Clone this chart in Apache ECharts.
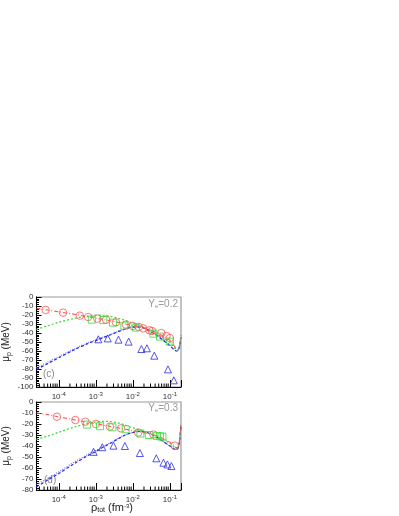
<!DOCTYPE html>
<html>
<head>
<meta charset="utf-8">
<script src="https://cdn.jsdelivr.net/npm/echarts@6/dist/echarts.min.js"></script>
<style>
html, body { margin: 0; padding: 0; background: #fff; }
#main { width: 399px; height: 516px; }
</style>
</head>
<body>
<div id="main"></div>
<script>
// density grid used by the model curves (fm^-3)
var rhoCurve = [2.5e-5, 5e-5, 1e-4, 2.5e-4, 6.3e-4, 1e-3, 1.6e-3, 2.5e-3, 4e-3, 6.3e-3, 1e-2, 1.6e-2, 2.5e-2, 4e-2, 6.3e-2, 0.1, 0.126, 0.148, 0.166, 0.18, 0.19, 0.2];

// panel (c) Ye = 0.2
var redC = [-12.5, -14.5, -16.5, -19, -22, -23.5, -25, -26.5, -28, -30, -31.5, -33.5, -36, -39, -43, -48, -53, -57.5, -58.5, -55.5, -50.5, -44.5];
var greenC = [-36, -32, -28, -24, -21, -20, -20.3, -21.5, -23.5, -26, -29, -32, -35.5, -40, -45, -50.5, -55, -58.5, -59, -56, -51, -45];
var blueC = [-80.5, -74, -67.5, -59, -51.5, -48.5, -45, -42, -38.5, -35.5, -33.5, -33.5, -36.5, -41.5, -47.5, -54, -58, -60, -59.5, -56, -51, -45];
var blueLightC = [-78.5, -72.5, -66, -58, -50.5, -47.5, -44.5, -41.5, -38, -35, -33, -33, -36, -41, -47, -53.5, -57.5, -59.5, -59, -55, -49, -42];

var circleRhoC = [4.4e-5, 1.3e-4, 3.7e-4, 6.2e-4, 1.1e-3, 1.9e-3, 3.5e-3, 6.5e-3, 1.0e-2, 1.45e-2, 1.9e-2, 2.8e-2, 3.3e-2, 5.9e-2, 8.1e-2, 0.1];
var circleMuC = [-14.4, -17.4, -20.7, -22.2, -24, -25.2, -28.1, -30.7, -32.2, -33.3, -34.8, -37, -37.8, -40, -43.3, -45.6];
var squareRhoC = [7.8e-4, 1.6e-3, 2.9e-3, 5.9e-3, 1.2e-2, 3.6e-2, 5.4e-2, 0.1];
var squareMuC = [-25.2, -25.6, -28.5, -31.9, -34, -40.7, -44, -49.6];
var triRhoC = [1.17e-3, 2.1e-3, 4.1e-3, 7.7e-3, 1.7e-2, 2.4e-2, 3.8e-2, 8.9e-2, 0.128];
var triMuC = [-47, -46, -47.4, -49.6, -57.8, -57, -65.2, -80.4, -92.6];

// panel (d) Ye = 0.3
var redD = [-10, -11.5, -13.5, -16, -18.5, -19.7, -21, -22.2, -23.5, -24.8, -26, -27.3, -28.5, -30.3, -33, -36.5, -39.5, -41.5, -41, -36, -29.5, -21];
var greenD = [-34, -31, -27.5, -23, -19.5, -18.2, -17.6, -17.8, -19, -21, -23.5, -25.5, -28, -30.5, -33.5, -37.5, -40.5, -42.5, -41.5, -37, -30, -22];
var blueD = [-77, -71, -65, -56.5, -48.5, -45, -41, -37.5, -33.5, -30, -27.8, -26.8, -28, -31, -35.5, -40, -42.5, -43.5, -42, -37, -30, -22];
var blueLightD = [-75, -69.5, -63.5, -55, -47.5, -44, -40.3, -37, -33, -29.7, -27.5, -26.5, -27.7, -30.7, -35.2, -39.7, -42.2, -43.2, -41.7, -36.5, -29, -20];

var circleRhoD = [8.9e-5, 2.8e-4, 5.2e-4, 1.0e-3, 2.4e-3, 4.8e-3, 1.4e-2, 3.6e-2, 0.135];
var circleMuD = [-13.4, -16.4, -17.9, -20, -22.4, -24, -27.8, -29.6, -39.7];
var squareRhoD = [5.8e-4, 1.3e-3, 2.8e-3, 6.4e-3, 1.6e-2, 2.7e-2, 4.5e-2, 5.4e-2, 6.3e-2];
var squareMuD = [-20.5, -22, -23, -24.8, -28.7, -30, -30.8, -31.2, -31.5];
var triRhoD = [8.7e-4, 1.5e-3, 3.0e-3, 6.1e-3, 1.55e-2, 4.3e-2, 6.7e-2, 8.6e-2, 0.11];
var triMuD = [-45.3, -41.1, -39.7, -40, -46.4, -51.2, -55.2, -56.8, -58.2];

function pairs(xs, ys) {
	return xs.map(function (x, i) { return [x, ys[i]]; });
}

// minor ticks on the log axis (2..9 of each decade)
var minorTicks = [];
[1e-5, 1e-4, 1e-3, 1e-2, 1e-1].forEach(function (d) {
	for (var k = 2; k <= 9; k++) {
		var v = d * k;
		if (v > 2.5e-5 && v < 0.2) minorTicks.push([v]);
	}
});

var RED = '#ff5555', GREEN = '#33dd33', BLUE = '#2a2ae0', BLUE_L = '#7c7cff';

function xAxisFor(gi) {
	return {
		type: 'log',
		gridIndex: gi,
		position: 'bottom',
		min: 2.5e-5,
		max: 0.2,
		logBase: 10,
		axisLine: { onZero: false, lineStyle: { color: '#000', width: 1 } },
		axisTick: { inside: true, length: 7, lineStyle: { color: '#000' } },
		splitLine: { show: false },
		axisLabel: {
			margin: 4,
			color: '#333',
			formatter: function (v) {
				var l = Math.log10(v);
				var r = Math.round(l);
				if (Math.abs(l - r) > 1e-6) return '';
				return '{b|10}{s|' + r + '}';
			},
			rich: {
				b: { fontSize: 8, fontFamily: 'Liberation Sans', color: '#333' },
				s: { fontSize: 6, fontFamily: 'Liberation Sans', color: '#333', verticalAlign: 'bottom', padding: [0, 0, 5, 0] }
			}
		}
	};
}

function yAxisFor(gi, mn) {
	return {
		type: 'value',
		gridIndex: gi,
		min: mn,
		max: 0,
		interval: 10,
		name: '{m|μ}{p|p}{m| (MeV)}',
		nameLocation: 'middle',
		nameRotate: 90,
		nameGap: 24,
		nameTextStyle: {
			rich: {
				m: { fontSize: 10, fontFamily: 'Liberation Sans', color: '#222' },
				p: { fontSize: 7, fontFamily: 'Liberation Sans', color: '#222', verticalAlign: 'top', padding: [6, 0, 0, 0] }
			}
		},
		axisLine: { show: true, onZero: false, lineStyle: { color: '#000', width: 1 } },
		axisTick: { inside: true, length: 5, lineStyle: { color: '#000' } },
		minorTick: { show: true, splitNumber: 5, length: 2.5, lineStyle: { color: '#000' } },
		splitLine: { show: false },
		axisLabel: { margin: 3, fontSize: 8, fontFamily: 'Liberation Sans', color: '#333' }
	};
}

function curve(name, ys, color, type, width, gi) {
	return {
		name: name, type: 'line', xAxisIndex: gi, yAxisIndex: gi,
		data: pairs(rhoCurve, ys), smooth: 0.3, showSymbol: false, symbol: 'none',
		lineStyle: { color: color, type: type, width: width }, z: 3
	};
}

function marks(name, xs, ys, symbol, size, color, gi) {
	return {
		name: name, type: 'scatter', xAxisIndex: gi, yAxisIndex: gi,
		data: pairs(xs, ys), symbol: symbol, symbolSize: size,
		itemStyle: { color: 'rgba(0,0,0,0)', borderColor: color, borderWidth: 1 }, z: 4
	};
}

function minorTickSeries(gi, ymin) {
	return {
		type: 'custom', xAxisIndex: gi, yAxisIndex: gi, silent: true, z: 5,
		data: minorTicks,
		renderItem: function (params, api) {
			var p = api.coord([api.value(0), ymin]);
			return {
				type: 'line',
				shape: { x1: p[0], y1: p[1], x2: p[0], y2: p[1] - 3.5 },
				style: { stroke: '#000', lineWidth: 1 }
			};
		}
	};
}

var chart = echarts.init(document.getElementById('main'), null, { renderer: 'canvas' });
var option = {
	animation: false,
	backgroundColor: '#fff',
	grid: [
		{ left: 33, top: 297, width: 148, height: 90, show: true, borderColor: '#999', borderWidth: 1.2, backgroundColor: 'transparent' },
		{ left: 33, top: 402, width: 148, height: 88, show: true, borderColor: '#999', borderWidth: 1.2, backgroundColor: 'transparent' }
	],
	xAxis: [xAxisFor(0), xAxisFor(1)],
	yAxis: [yAxisFor(0, -100), yAxisFor(1, -80)],
	graphic: [
		{ type: 'text', right: 221, top: 299, style: { text: 'Y{s|e}=0.2', fill: '#999', font: '10px Liberation Sans', rich: { s: { fontSize: 6, fill: '#999', verticalAlign: 'top', padding: [5, 0, 0, 0] } } } },
		{ type: 'text', right: 221, top: 403, style: { text: 'Y{s|e}=0.3', fill: '#999', font: '10px Liberation Sans', rich: { s: { fontSize: 6, fill: '#999', verticalAlign: 'top', padding: [5, 0, 0, 0] } } } },
		{ type: 'text', left: 43, top: 369, style: { text: '(c)', fill: '#888', font: '10px Liberation Sans' } },
		{ type: 'text', left: 44, top: 475, style: { text: '(d)', fill: '#888', font: '10px Liberation Sans' } },
		{ type: 'text', left: 91, top: 502, style: { text: 'ρ{s|tot} (fm{u|-3})', fill: '#222', font: '11px Liberation Sans',
			rich: { s: { fontSize: 7, fill: '#222', verticalAlign: 'top', padding: [6, 0, 0, 0] }, u: { fontSize: 6, fill: '#222', verticalAlign: 'bottom', padding: [0, 0, 5, 0] } } } }
	],
	series: [
		curve('blueL-c', blueLightC, BLUE_L, [1, 1.5], 1.3, 0),
		curve('blue-c', blueC, BLUE, [3, 2], 1.2, 0),
		curve('green-c', greenC, GREEN, [2, 2], 1.2, 0),
		curve('red-c', redC, RED, [4, 2, 1, 2], 1.1, 0),
		marks('circ-c', circleRhoC, circleMuC, 'circle', 7.5, RED, 0),
		marks('sq-c', squareRhoC, squareMuC, 'rect', 7, GREEN, 0),
		marks('tri-c', triRhoC, triMuC, 'triangle', 7, BLUE, 0),
		minorTickSeries(0, -100),

		curve('blueL-d', blueLightD, BLUE_L, [1, 1.5], 1.3, 1),
		curve('blue-d', blueD, BLUE, [3, 2], 1.2, 1),
		curve('green-d', greenD, GREEN, [2, 2], 1.2, 1),
		curve('red-d', redD, RED, [4, 2, 1, 2], 1.1, 1),
		marks('circ-d', circleRhoD, circleMuD, 'circle', 7.5, RED, 1),
		marks('sq-d', squareRhoD, squareMuD, 'rect', 7, GREEN, 1),
		marks('tri-d', triRhoD, triMuD, 'triangle', 7, BLUE, 1),
		minorTickSeries(1, -80)
	]
};
chart.setOption(option);
</script>
</body>
</html>
